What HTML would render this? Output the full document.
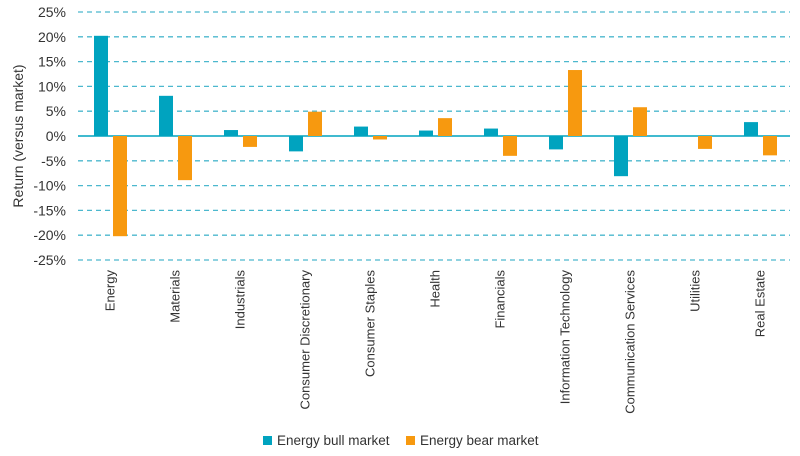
<!DOCTYPE html>
<html><head><meta charset="utf-8"><style>
body{margin:0;background:#fff;}
svg{display:block;font-family:"Liberation Sans",sans-serif;}
</style></head><body>
<svg id="chart" width="800" height="456" viewBox="0 0 800 456" xmlns="http://www.w3.org/2000/svg">
<g id="grid"></g>
<g id="yticks"></g>
<g id="bars"></g>
<g id="xlabels"></g>
<text transform="translate(23,136) rotate(-90)" text-anchor="middle" font-size="14" fill="#333">Return (versus market)</text>
<g>
<g><rect x="263" y="436" width="9" height="9" fill="#00a3bf"/><text x="277" y="445" font-size="13.5" fill="#333">Energy bull market</text></g>
<g><rect x="406" y="436" width="9" height="9" fill="#f7990f"/><text x="420" y="445" font-size="13.5" fill="#333">Energy bear market</text></g>
</g>
</svg>
<script>
const categories=["Energy","Materials","Industrials","Consumer Discretionary","Consumer Staples","Health","Financials","Information Technology","Communication Services","Utilities","Real Estate"];
const bullValues=[20.2,8.1,1.2,-3.1,1.9,1.1,1.5,-2.7,-8.1,0,2.8];
const bearValues=[-20.2,-8.9,-2.2,4.9,-0.7,3.6,-4.0,13.3,5.8,-2.6,-3.9];
const yTicks=[25,20,15,10,5,0,-5,-10,-15,-20,-25];
const NS="http://www.w3.org/2000/svg";
const x0=78,x1=793,yTop=12,yBot=260,vMax=25,vMin=-25;
const y=v=>yTop+(vMax-v)/(vMax-vMin)*(yBot-yTop);
const band=(x1-x0)/categories.length;
const cx=i=>x0+band*(i+0.5);
function mk(t,a,p){const e=document.createElementNS(NS,t);for(const k in a)e.setAttribute(k,a[k]);p.appendChild(e);return e;}
const grid=document.getElementById('grid'),yt=document.getElementById('yticks'),bars=document.getElementById('bars'),xl=document.getElementById('xlabels');
yTicks.forEach(v=>{
  const l=mk('line',{x1:x0,x2:x1-3,y1:y(v),y2:y(v),stroke:v===0?'#00a3bf':'#4cb8ce','stroke-width':v===0?1.5:1.3,'stroke-dasharray':v===0?'none':'5,4'},grid);
  
  
  const t=mk('text',{x:66,y:y(v)+5,'text-anchor':'end','font-size':14,fill:'#333'},yt);
  t.textContent=v+'%';
  
  
});
const bw=14,gap=5;
categories.forEach((c,i)=>{
  [[bullValues[i],'#00a3bf',cx(i)-gap/2-bw,'bar-bull'],[bearValues[i],'#f7990f',cx(i)+gap/2,'bar-bear']].forEach(([v,col,bx,nm])=>{
    if(v===0)return;
    const r=mk('rect',{x:bx,y:Math.min(y(v),y(0)),width:bw,height:Math.abs(y(v)-y(0)),fill:col},bars);
    
    
  });
  const t=mk('text',{transform:`translate(${cx(i)+4},270) rotate(-90)`,'text-anchor':'end','font-size':13,fill:'#333'},xl);
  t.textContent=c;
  
  
});
</script>
</body></html>
